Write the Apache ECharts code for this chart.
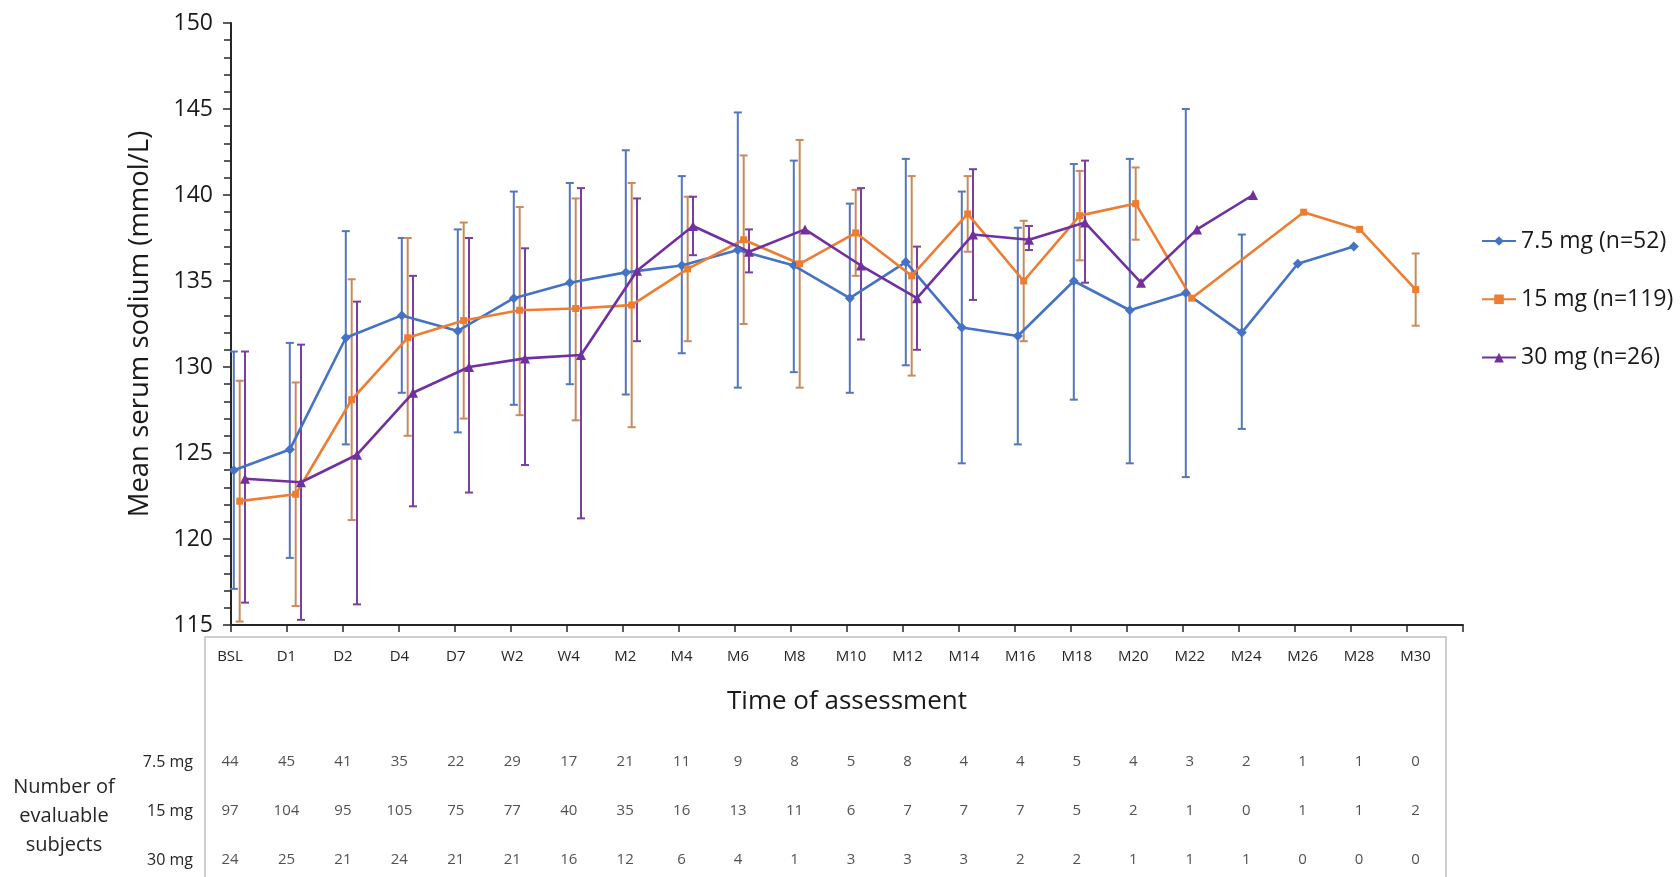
<!DOCTYPE html>
<html>
<head>
<meta charset="utf-8">
<script src="https://cdn.jsdelivr.net/npm/echarts@6/dist/echarts.min.js"></script>
<style>
  html, body { margin: 0; padding: 0; background: #fff; }
  #chart { width: 1680px; height: 877px; }
</style>
</head>
<body>
<div id="chart"></div>
<script>
// ---------- data ----------
const categories = ['BSL','D1','D2','D4','D7','W2','W4','M2','M4','M6','M8','M10','M12','M14','M16','M18','M20','M22','M24','M26','M28','M30'];
const seriesNames = ['7.5 mg (n=52)', '15 mg (n=119)', '30 mg (n=26)'];
const rowLabels = ['7.5 mg', '15 mg', '30 mg'];

const mean75 = [124.0,125.2,131.7,133.0,132.1,134.0,134.9,135.5,135.9,136.8,135.9,134.0,136.1,132.3,131.8,135.0,133.3,134.3,132.0,136.0,137.0,null];
const low75  = [117.1,118.9,125.5,128.5,126.2,127.8,129.0,128.4,130.8,128.8,129.7,128.5,130.1,124.4,125.5,128.1,124.4,123.6,126.4,null,null,null];
const high75 = [130.9,131.4,137.9,137.5,138.0,140.2,140.7,142.6,141.1,144.8,142.0,139.5,142.1,140.2,138.1,141.8,142.1,145.0,137.7,null,null,null];

const mean15 = [122.2,122.6,128.1,131.7,132.7,133.3,133.4,133.6,135.7,137.4,136.0,137.8,135.3,138.9,135.0,138.8,139.5,134.0,null,139.0,138.0,134.5];
const low15  = [115.2,116.1,121.1,126.0,127.0,127.2,126.9,126.5,131.5,132.5,128.8,135.3,129.5,136.7,131.5,136.2,137.4,null,null,null,null,132.4];
const high15 = [129.2,129.1,135.1,137.5,138.4,139.3,139.8,140.7,139.9,142.3,143.2,140.3,141.1,141.1,138.5,141.4,141.6,null,null,null,null,136.6];

const mean30 = [123.5,123.3,124.9,128.5,130.0,130.5,130.7,135.6,138.2,136.7,138.0,135.9,134.0,137.7,137.4,138.4,134.9,138.0,140.0,null,null,null];
const low30  = [116.3,115.3,116.2,121.9,122.7,124.3,121.2,131.5,136.5,135.5,null,131.6,131.0,133.9,136.8,134.9,null,null,null,null,null,null];
const high30 = [130.9,131.3,133.8,135.3,137.5,136.9,140.4,139.8,139.9,138.0,null,140.4,137.0,141.5,138.2,142.0,null,null,null,null,null,null];

const n75 = [44,45,41,35,22,29,17,21,11,9,8,5,8,4,4,5,4,3,2,1,1,0];
const n15 = [97,104,95,105,75,77,40,35,16,13,11,6,7,7,7,5,2,1,0,1,1,2];
const n30 = [24,25,21,24,21,21,16,12,6,4,1,3,3,3,2,2,1,1,1,0,0,0];

// ---------- helpers ----------
const FONT = '"Open Sans", "Noto Sans", sans-serif';
const lineColors = ['#4472C4', '#ED7D31', '#7030A0'];
const barColors  = ['#5577BA', '#C98A5C', '#7A3FA3'];
const offsets = [0.05, 0.155, 0.25];
const symbols = ['diamond', 'rect', 'triangle'];
const symbolSizes = [10, 7, 10];

function points(mean, off) {
  return mean.map((v, i) => v == null ? null : [i + off, v]).filter(p => p);
}
function bars(low, high, off) {
  return low.map((l, i) => (l == null || high[i] == null) ? null : [i + off, l, high[i]]).filter(p => p);
}
function errSeries(name, data, color) {
  return {
    name: name, type: 'custom', xAxisIndex: 0, yAxisIndex: 0, z: 1, silent: true,
    data: data, encode: { x: 0, y: [1, 2] },
    renderItem: function (params, api) {
      const x = api.value(0), lo = api.value(1), hi = api.value(2);
      const a = api.coord([x, hi]), b = api.coord([x, lo]);
      const w = 4, st = { stroke: color, lineWidth: 2 };
      return { type: 'group', children: [
        { type: 'line', shape: { x1: a[0], y1: a[1], x2: b[0], y2: b[1] }, style: st },
        { type: 'line', shape: { x1: a[0] - w, y1: a[1], x2: a[0] + w, y2: a[1] }, style: st },
        { type: 'line', shape: { x1: b[0] - w, y1: b[1], x2: b[0] + w, y2: b[1] }, style: st }
      ]};
    }
  };
}
function lineSeries(idx, mean) {
  return {
    name: seriesNames[idx], type: 'line', xAxisIndex: 0, yAxisIndex: 0, z: 3,
    data: points(mean, offsets[idx]),
    symbol: symbols[idx], symbolSize: symbolSizes[idx], showSymbol: true,
    lineStyle: { color: lineColors[idx], width: 2.6 },
    itemStyle: { color: lineColors[idx] },
    emphasis: { disabled: true }
  };
}
function countSeries(rowIdx, counts) {
  return {
    name: 'n-' + rowLabels[rowIdx], type: 'scatter', xAxisIndex: 1, yAxisIndex: 1,
    symbolSize: 2, itemStyle: { color: 'rgba(0,0,0,0)' }, silent: true, z: 5,
    data: counts.map((c, i) => [i, rowIdx, c]),
    label: { show: true, position: 'inside', formatter: p => String(p.value[2]),
             color: '#262626', fontSize: 15, fontFamily: FONT }
  };
}

const chart = echarts.init(document.getElementById('chart'), null, { renderer: 'canvas' });
chart.setOption({
  animation: false,
  backgroundColor: '#fff',
  textStyle: { fontFamily: FONT },
  grid: [
    { left: 231, right: 217, top: 23, bottom: 252 },
    { left: 230, right: 208, top: 762, bottom: 17 }
  ],
  xAxis: [
    {
      gridIndex: 0, type: 'value', min: 0, max: 22, interval: 1,
      axisLine: { show: true, lineStyle: { color: '#262626', width: 2 } },
      axisTick: { show: true, length: 7, lineStyle: { color: '#262626', width: 1.5 } },
      axisLabel: { show: false },
      splitLine: { show: false },
      name: 'Time of assessment', nameLocation: 'middle', nameGap: 64,
      nameTextStyle: { color: '#1a1a1a', fontSize: 26, fontFamily: FONT }
    },
    {
      gridIndex: 1, type: 'value', min: 0, max: 22, interval: 1, position: 'top', offset: 90,
      axisLine: { show: false }, axisTick: { show: false }, splitLine: { show: false },
      axisLabel: { show: true, margin: 8, color: '#262626', fontSize: 15, fontFamily: FONT,
                   formatter: v => categories[v] || '' }
    }
  ],
  yAxis: [
    {
      gridIndex: 0, type: 'value', min: 115, max: 150, interval: 5,
      axisLine: { show: true, lineStyle: { color: '#262626', width: 2 } },
      axisTick: { show: true, length: 8, lineStyle: { color: '#262626', width: 1.5 } },
      minorTick: { show: true, splitNumber: 5, length: 7, lineStyle: { color: '#262626', width: 1.5 } },
      splitLine: { show: false },
      axisLabel: { color: '#1a1a1a', fontSize: 23, margin: 18, fontFamily: FONT },
      name: 'Mean serum sodium (mmol/L)', nameLocation: 'middle', nameRotate: 90, nameGap: 77,
      nameTextStyle: { color: '#1a1a1a', fontSize: 27.5, fontFamily: FONT }
    },
    {
      gridIndex: 1, type: 'value', min: 0, max: 2, interval: 1, inverse: true,
      axisLine: { show: false }, axisTick: { show: false }, splitLine: { show: false },
      axisLabel: { color: '#262626', fontSize: 16, margin: 37, fontFamily: FONT,
                   formatter: v => rowLabels[v] || '' }
    }
  ],
  legend: {
    orient: 'vertical', left: 1476, top: 222, itemGap: 30.3,
    itemWidth: 34, itemHeight: 12,
    data: seriesNames,
    textStyle: { color: '#1a1a1a', fontSize: 23, lineHeight: 28, fontFamily: FONT }
  },
  graphic: [
    { type: 'rect', z: -1, silent: true,
      shape: { x: 205, y: 637, width: 1241, height: 260 },
      style: { fill: 'none', stroke: '#BFBFBF', lineWidth: 1.5 } },
    { type: 'text', silent: true, x: 64, y: 816,
      style: { text: 'Number of\nevaluable\nsubjects', fontSize: 20, lineHeight: 29,
               fontFamily: FONT, fill: '#262626', align: 'center', verticalAlign: 'middle' } }
  ],
  series: [
    errSeries('err75', bars(low75, high75, offsets[0]), barColors[0]),
    errSeries('err15', bars(low15, high15, offsets[1]), barColors[1]),
    errSeries('err30', bars(low30, high30, offsets[2]), barColors[2]),
    lineSeries(0, mean75),
    lineSeries(1, mean15),
    lineSeries(2, mean30),
    countSeries(0, n75),
    countSeries(1, n15),
    countSeries(2, n30)
  ]
});
</script>
</body>
</html>
